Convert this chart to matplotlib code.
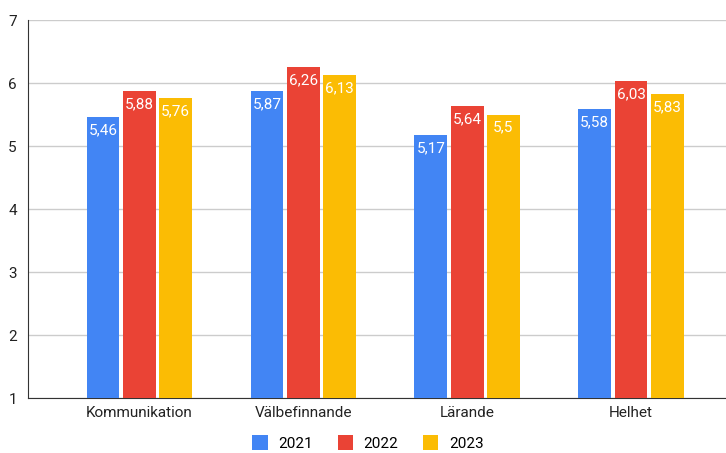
import matplotlib
matplotlib.use("Agg")
import matplotlib.pyplot as plt
import numpy as np

categories = ["Kommunikation", "Välbefinnande", "Lärande", "Helhet"]
years = ["2021", "2022", "2023"]
values_2021 = [5.46, 5.87, 5.17, 5.58]
values_2022 = [5.88, 6.26, 5.64, 6.03]
values_2023 = [5.76, 6.13, 5.50, 5.83]
colours = ["#4285F4", "#EA4335", "#FBBC04"]

plt.rcParams['font.family'] = ['Roboto', 'DejaVu Sans']

fig = plt.figure(figsize=(7.26, 4.53), dpi=100)
ax = fig.add_axes([0.0386, 0.1214, 0.9614, 0.8344])

x = np.arange(len(categories))
series = [values_2021, values_2022, values_2023]
for i, (vals, col, year) in enumerate(zip(series, colours, years)):
    pos = x + (i - 1) * 0.222
    ax.bar(pos, np.array(vals) - 1, width=0.2, bottom=1, color=col, label=year, zorder=3)
    for px_, v in zip(pos, vals):
        ax.annotate("{:g}".format(v).replace(".", ","), (px_, v), xytext=(0, -4.5),
                    textcoords="offset points", ha="center", va="top",
                    color="white", fontsize=11, zorder=4)

ax.set_ylim(1, 7)
ax.set_xlim(-0.68, 3.58)
ax.set_yticks(range(1, 8))
ax.set_xticks(x)
ax.set_xticklabels(categories)
ax.yaxis.grid(True, color="#cccccc", linewidth=1, zorder=0)
ax.tick_params(axis="both", length=0, labelsize=11, colors="#222222")
ax.tick_params(axis="y", pad=8)
ax.tick_params(axis="x", pad=6)
for s in ["top", "right"]:
    ax.spines[s].set_visible(False)
ax.spines["left"].set_color("#333333")
ax.spines["bottom"].set_color("#333333")

ax.legend(loc="center", bbox_to_anchor=(0.487, -0.119), ncol=3, frameon=False,
          fontsize=11, handlelength=1.0, handleheight=1.1, columnspacing=1.6,
          handletextpad=0.7)

fig.savefig("out.png", dpi=100)
